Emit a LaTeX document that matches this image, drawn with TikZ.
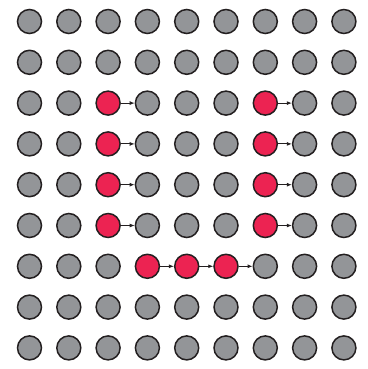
\documentclass[tikz,border=0pt]{standalone}
\usetikzlibrary{arrows.meta}
\definecolor{dotgray}{RGB}{147,149,152}
\definecolor{dotred}{RGB}{236,35,82}
\definecolor{dotline}{RGB}{35,31,32}
\begin{document}
\begin{tikzpicture}[x=1pt, y=-1pt,
    dot/.style={circle, draw=dotline, line width=1.5pt, fill=dotgray, minimum size=24pt, inner sep=0pt},
    hot/.style={dot, fill=dotred},
    arrow/.style={-{Latex[length=5pt,width=4pt]}, line width=0.9pt, dotline}
]
    \useasboundingbox (0,0) rectangle (367,369);

    % 9x9 grid, red ones form the path
    \foreach \r in {1,...,9}
        \foreach \c in {1,...,9} {
            \pgfmathtruncatemacro\isred{((\c==3 || \c==7) && \r>=3 && \r<=6) || (\r==7 && \c>=4 && \c<=6)}
            \ifnum\isred=1 \def\sty{hot}\else\def\sty{dot}\fi
            \node[\sty] (n-\r-\c) at ({29.5+39.3*(\c-1)},{21.5+40.8*(\r-1)}) {};
        }

    \foreach \r in {3,...,6} {
        \draw[arrow] (n-\r-3) -- (n-\r-4);
        \draw[arrow] (n-\r-7) -- (n-\r-8);
    }
    \foreach \c/\d in {4/5,5/6,6/7}
        \draw[arrow] (n-7-\c) -- (n-7-\d);
\end{tikzpicture}
\end{document}
